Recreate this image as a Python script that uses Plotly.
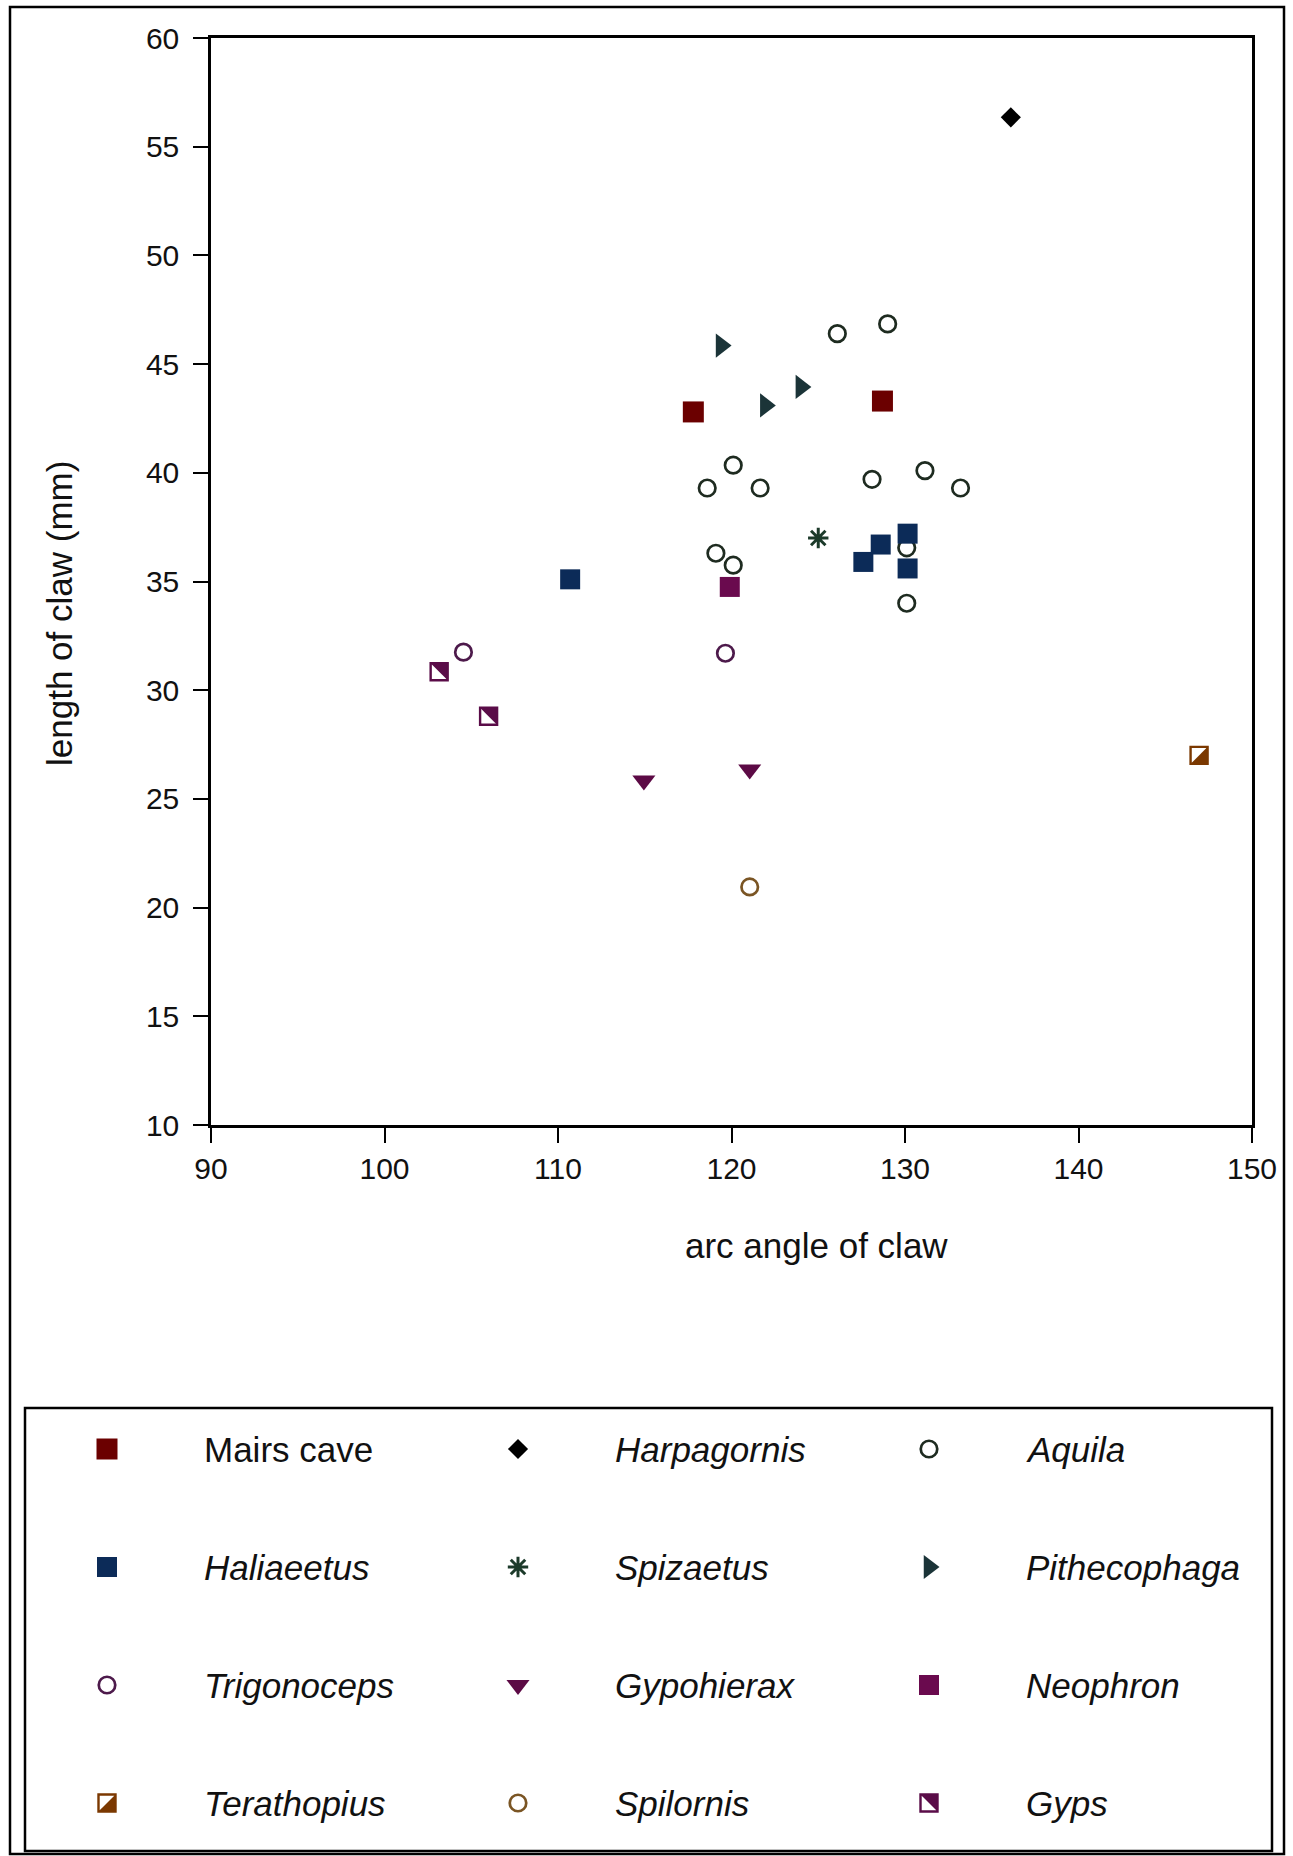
import plotly.graph_objects as go

W, H = 1293, 1856

# ---------------- data ----------------
species = ["Mairs cave", "Harpagornis", "Aquila",
           "Haliaeetus", "Spizaetus", "Pithecophaga",
           "Trigonoceps", "Gypohierax", "Neophron",
           "Terathopius", "Spilornis", "Gyps"]
italic = [False, True, True, True, True, True, True, True, True, True, True, True]

mairs_x = [117.8, 128.7]
mairs_y = [42.8, 43.3]
harpagornis_x = [136.1]
harpagornis_y = [56.35]
aquila_x = [126.1, 129.0, 120.1, 118.6, 121.65, 128.1, 131.15, 133.2, 119.1, 120.1, 130.1, 130.1]
aquila_y = [46.4, 46.85, 40.35, 39.3, 39.3, 39.7, 40.1, 39.3, 36.3, 35.75, 36.55, 34.0]
haliaeetus_x = [110.7, 127.6, 128.6, 130.15, 130.15]
haliaeetus_y = [35.1, 35.9, 36.7, 37.2, 35.6]
spizaetus_x = [125.0]
spizaetus_y = [37.0]
pithecophaga_x = [119.4, 121.95, 124.0]
pithecophaga_y = [45.85, 43.1, 43.95]
trigonoceps_x = [104.55, 119.65]
trigonoceps_y = [31.75, 31.7]
gypohierax_x = [114.95, 121.05]
gypohierax_y = [25.85, 26.35]
neophron_x = [119.9]
neophron_y = [34.75]
terathopius_x = [146.95]
terathopius_y = [27.0]
spilornis_x = [121.05]
spilornis_y = [20.95]
gyps_x = [103.15, 106.0]
gyps_y = [30.85, 28.8]

series_x = [mairs_x, harpagornis_x, aquila_x, haliaeetus_x, spizaetus_x, pithecophaga_x,
            trigonoceps_x, gypohierax_x, neophron_x, terathopius_x, spilornis_x, gyps_x]
series_y = [mairs_y, harpagornis_y, aquila_y, haliaeetus_y, spizaetus_y, pithecophaga_y,
            trigonoceps_y, gypohierax_y, neophron_y, terathopius_y, spilornis_y, gyps_y]

x_ticks = [90, 100, 110, 120, 130, 140, 150]
y_ticks = [10, 15, 20, 25, 30, 35, 40, 45, 50, 55, 60]

x_title = "arc angle of claw"
y_title = "length of claw (mm)"

# ---------------- styles ----------------
styles = {
    "Mairs cave":   dict(kind="solid", symbol="square", size=21, color="#6b0000"),
    "Harpagornis":  dict(kind="solid", symbol="diamond", size=15.5, color="#000000"),
    "Aquila":       dict(kind="open", symbol="circle-open", size=16.5, color="#1e2b20", lw=2.7),
    "Haliaeetus":   dict(kind="solid", symbol="square", size=20, color="#0c2b58"),
    "Spizaetus":    dict(kind="open", symbol="asterisk-open", size=17, color="#1c3a2a", lw=3),
    "Pithecophaga": dict(kind="solid", symbol="triangle-right", size=21, color="#1b3438"),
    "Trigonoceps":  dict(kind="open", symbol="circle-open", size=16.5, color="#4d1a4b", lw=2.7),
    "Gypohierax":   dict(kind="solid", symbol="triangle-down", size=20, color="#5c0a45"),
    "Neophron":     dict(kind="solid", symbol="square", size=20, color="#6a0a4e"),
    "Terathopius":  dict(kind="half", size=18, color="#7b3800", white="nw"),
    "Spilornis":    dict(kind="open", symbol="circle-open", size=16.5, color="#7a5524", lw=2.7),
    "Gyps":         dict(kind="half", size=18, color="#5a0c48", white="sw"),
}

FONT = "Liberation Sans, Arial, sans-serif"
INK = "#111111"


def marker_traces(xs, ys, st, xa, ya):
    out = []
    common = dict(x=xs, y=ys, mode="markers", xaxis=xa, yaxis=ya,
                  showlegend=False, hoverinfo="skip")
    if st["kind"] == "solid":
        out.append(go.Scatter(marker=dict(symbol=st["symbol"], size=st["size"],
                                          color=st["color"], line=dict(width=0)), **common))
    elif st["kind"] == "open":
        out.append(go.Scatter(marker=dict(symbol=st["symbol"], size=st["size"],
                                          color=st["color"],
                                          line=dict(width=st["lw"], color=st["color"])), **common))
    else:
        s = st["size"]
        ws = s / 0.6 + 1.0          # white cover triangle size
        off = 0.6 * ws / 2.0        # shift so hypotenuse runs through the centre
        if st["white"] == "sw":
            wsym, wang = "triangle-sw", 0
        else:
            wsym, wang = "triangle-se", 180
        out.append(go.Scatter(marker=dict(symbol="square", size=s, color=st["color"],
                                          line=dict(width=0)), **common))
        out.append(go.Scatter(marker=dict(symbol=wsym, size=ws, color="white", angle=wang,
                                          standoff=off, line=dict(width=0)), **common))
        out.append(go.Scatter(marker=dict(symbol="square-open", size=s - 1, color=st["color"],
                                          line=dict(width=2.4, color=st["color"])), **common))
    return out


fig = go.Figure()

# composite markers first, so later markers sit on top of their white covers
order = [9, 11] + [i for i in range(len(species)) if i not in (9, 11)]
for i in order:
    for t in marker_traces(series_x[i], series_y[i], styles[species[i]], "x", "y"):
        fig.add_trace(t)

# ---------------- legend grid (auxiliary invisible axes) ----------------
leg_cols = [i % 3 for i in range(len(species))]
leg_rows = [i // 3 for i in range(len(species))]
for i in order:
    for t in marker_traces([leg_cols[i]], [leg_rows[i]], styles[species[i]], "x2", "y2"):
        fig.add_trace(t)

LEG_TOP = 1380          # px, top of the auxiliary legend area
COL_PX = 411            # px between legend columns
ROW_PX = 118            # px between legend rows
COL0_PX = 107           # px of first legend key
ROW0_PX = 1449          # px of first legend row
TEXT_OFF = 95 / COL_PX

annotations = []
for i, name in enumerate(species):
    label = f"<i>{name}</i>" if italic[i] else name
    annotations.append(dict(x=leg_cols[i] + TEXT_OFF, y=leg_rows[i], xref="x2", yref="y2",
                            text=label, showarrow=False, xanchor="left", yanchor="middle",
                            font=dict(family=FONT, size=35, color=INK)))

# axis titles
annotations.append(dict(x=816 / W, y=1 - 1245 / H, xref="paper", yref="paper", text=x_title,
                        showarrow=False, xanchor="center", yanchor="middle",
                        font=dict(family=FONT, size=35, color=INK)))
annotations.append(dict(x=60 / W, y=1 - 614 / H, xref="paper", yref="paper", text=y_title,
                        showarrow=False, xanchor="center", yanchor="middle", textangle=-90,
                        font=dict(family=FONT, size=35, color=INK)))


def px_rect(x0, y0, x1, y1, lw):
    return dict(type="rect", xref="paper", yref="paper",
                x0=x0 / W, x1=x1 / W, y0=1 - y1 / H, y1=1 - y0 / H,
                line=dict(color="#000000", width=lw), fillcolor="rgba(0,0,0,0)", layer="above")


shapes = [px_rect(10, 7, 1284, 1854, 2.5), px_rect(25, 1408, 1272, 1851, 2.5)]

axis_common = dict(showgrid=False, zeroline=False, showline=True, linecolor="#000000",
                   linewidth=2.5, mirror=True, ticks="outside", ticklen=15, tickwidth=2,
                   tickcolor="#000000", tickfont=dict(family=FONT, size=30, color=INK),
                   automargin=False)

fig.update_layout(
    width=W, height=H,
    autosize=False,
    margin=dict(l=0, r=0, t=0, b=0, pad=0, autoexpand=False),
    paper_bgcolor="white", plot_bgcolor="rgba(0,0,0,0)",
    showlegend=False,
    xaxis=dict(domain=[211 / W, 1252 / W], range=[90, 150], tickvals=x_ticks,
               ticklabelstandoff=0, anchor="y", **axis_common),
    yaxis=dict(domain=[1 - 1125 / H, 1 - 38 / H], range=[10, 60], tickvals=y_ticks,
               ticklabelstandoff=8, anchor="x", **axis_common),
    xaxis2=dict(domain=[0, 1], range=[-COL0_PX / COL_PX, (W - COL0_PX) / COL_PX],
                visible=False, anchor="y2", fixedrange=True, automargin=False),
    yaxis2=dict(domain=[0, 1 - LEG_TOP / H],
                range=[(H - ROW0_PX) / ROW_PX, (LEG_TOP - ROW0_PX) / ROW_PX],
                visible=False, anchor="x2", fixedrange=True, automargin=False),
    annotations=annotations,
    shapes=shapes,
)

fig.write_html("out.html", config={"responsive": False})
